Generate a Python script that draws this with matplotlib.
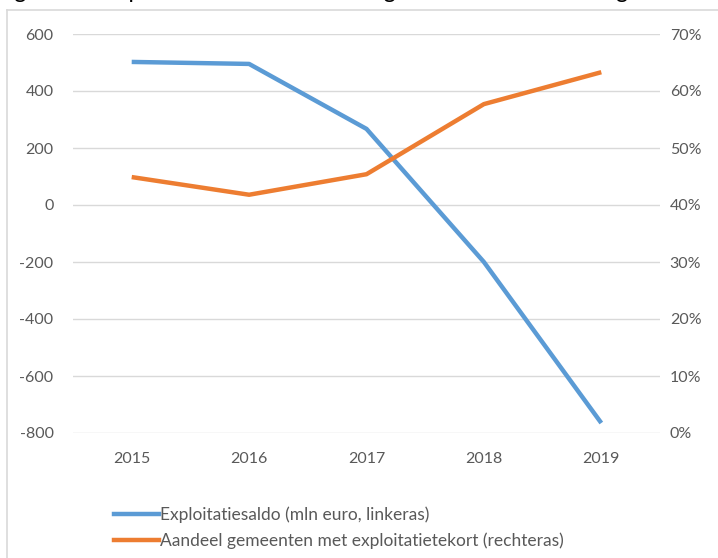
import matplotlib
matplotlib.use("Agg")
import matplotlib.pyplot as plt
from matplotlib.lines import Line2D
from matplotlib.ticker import FuncFormatter, MultipleLocator

years = ["2015", "2016", "2017", "2018", "2019"]
saldo = [502, 495, 267, -200, -765]          # mln euro, left axis
aandeel = [44.9, 41.8, 45.4, 57.7, 63.3]     # percent, right axis

label_saldo = "Exploitatiesaldo (mln euro, linkeras)"
label_aandeel = "Aandeel gemeenten met exploitatietekort (rechteras)"
title = "Figuur 3.2 Exploitatiesaldo en aandeel gemeenten met een negatief saldo"

BLUE = "#5B9BD5"
ORANGE = "#ED7D31"
GRID = "#D9D9D9"
TICK = "#595959"

plt.rcParams["font.family"] = ["Lato", "DejaVu Sans"]
plt.rcParams["axes.unicode_minus"] = False

W, H = 718, 558
fig = plt.figure(figsize=(W / 100, H / 100), dpi=100)

# chart frame (only left and top edges are visible in the crop)
fig.add_artist(Line2D([7 / W, 7 / W], [0, 1 - 10 / H], color=GRID, lw=1.2))
fig.add_artist(Line2D([7 / W, 1], [1 - 10 / H, 1 - 10 / H], color=GRID, lw=1.2))

# title above the crop: only the descenders show
fig.text(-4 / W, 1 + 1.5 / H, title, fontsize=16.5, color="black",
         ha="left", va="baseline")

left, right, top, bottom = 73 / W, 660 / W, 1 - 34 / H, 1 - 433 / H
ax = fig.add_axes([left, bottom, right - left, top - bottom])
ax2 = ax.twinx()

x = list(range(len(years)))
ax.plot(x, saldo, color=BLUE, lw=3.2, solid_capstyle="butt", zorder=3)
ax2.plot(x, aandeel, color=ORANGE, lw=3.2, solid_capstyle="butt", zorder=3)

ax.set_xlim(-0.5, len(years) - 0.5)
ax.set_ylim(-800, 600)
ax2.set_ylim(0, 70)
ax.yaxis.set_major_locator(MultipleLocator(200))
ax2.yaxis.set_major_locator(MultipleLocator(10))
ax2.yaxis.set_major_formatter(FuncFormatter(lambda v, p: f"{v:.0f}%"))
ax.set_xticks(x)
ax.set_xticklabels(years)

ax.grid(axis="y", color=GRID, lw=1)
ax.set_axisbelow(True)
for a in (ax, ax2):
    for s in a.spines.values():
        s.set_visible(False)
    a.tick_params(length=0, labelsize=11.5, colors=TICK)
ax.tick_params(axis="y", pad=14)
ax2.tick_params(axis="y", pad=7)
ax.tick_params(axis="x", pad=14)
ax2.set_zorder(ax.get_zorder() + 1)
ax2.patch.set_visible(False)

handles = [Line2D([], [], color=BLUE, lw=3.2), Line2D([], [], color=ORANGE, lw=3.2)]
fig.legend(handles, [label_saldo, label_aandeel], loc="upper left",
           bbox_to_anchor=(98 / W, 1 - 491 / H), frameon=False,
           fontsize=12.5, labelcolor=TICK, handlelength=2.6, handletextpad=0.1,
           labelspacing=0.55)

fig.savefig("out.png", dpi=100)
